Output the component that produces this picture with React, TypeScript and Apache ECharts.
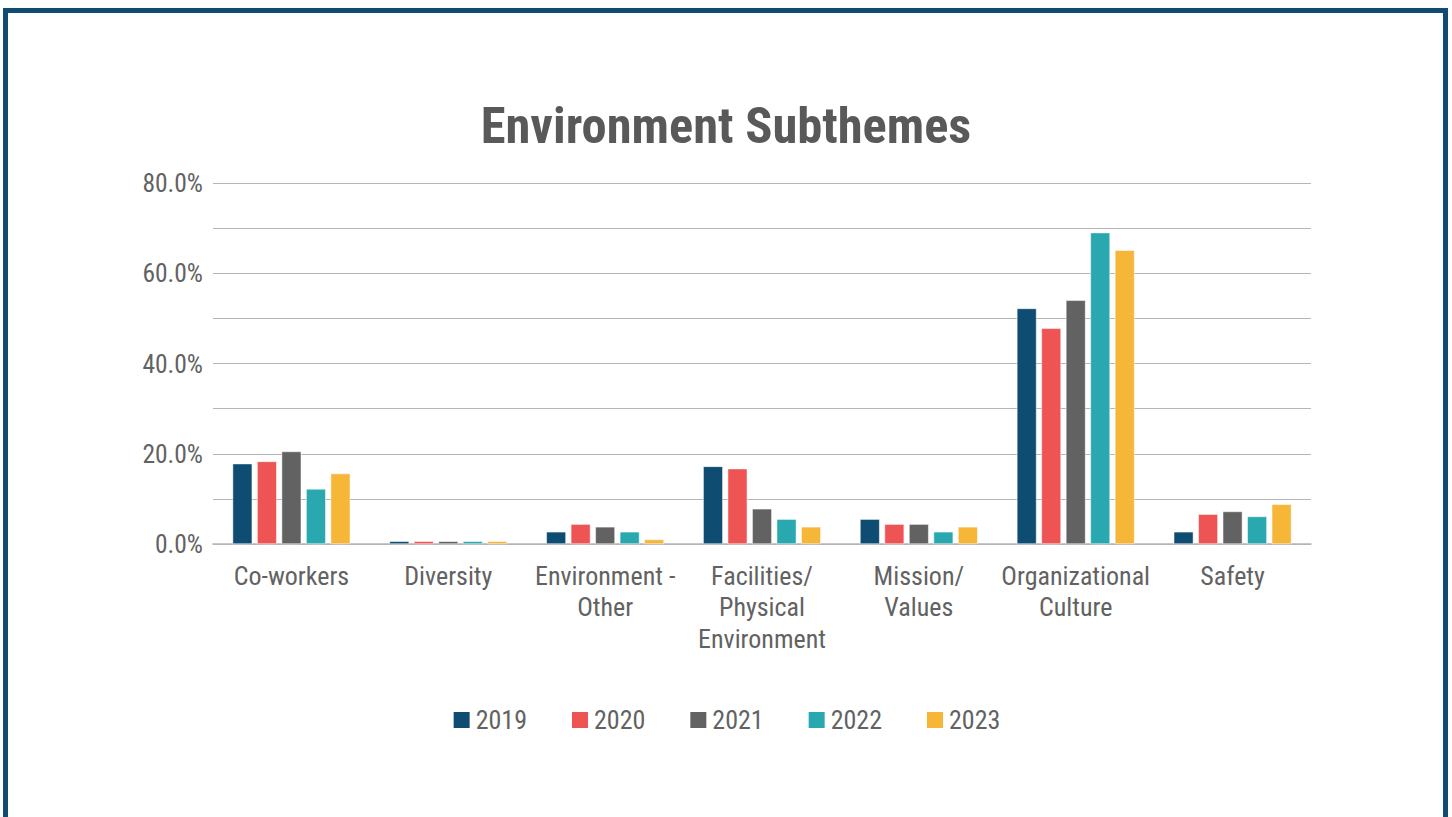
import React, { useEffect, useRef } from "react";
import * as echarts from "echarts";

const categories = [
  "Co-workers",
  "Diversity",
  "Environment -\nOther",
  "Facilities/\nPhysical\nEnvironment",
  "Mission/\nValues",
  "Organizational\nCulture",
  "Safety",
];
const years = ["2019", "2020", "2021", "2022", "2023"];
const v2019 = [17.8, 0.6, 2.7, 17.2, 5.5, 52.2, 2.7];
const v2020 = [18.3, 0.6, 4.4, 16.7, 4.4, 47.8, 6.6];
const v2021 = [20.5, 0.6, 3.8, 7.8, 4.4, 54.0, 7.2];
const v2022 = [12.2, 0.6, 2.7, 5.5, 2.7, 69.0, 6.1];
const v2023 = [15.6, 0.6, 1.0, 3.8, 3.8, 65.1, 8.8];
const colors = ["#0E4C71", "#EF5455", "#626262", "#2AA8B0", "#F6B637"];
const yTickLabels = [0, 20, 40, 60, 80];

const FONT = "'Roboto Condensed', 'Liberation Sans Narrow', 'DejaVu Sans Condensed', Roboto, sans-serif";
const TEXT = "#595959";
const LABEL = "#626262";

export default function App() {
  const ref = useRef<HTMLDivElement>(null);
  useEffect(() => {
    if (!ref.current) return;
    const chart = echarts.init(ref.current, null, { renderer: "svg" });
    const seriesData = [v2019, v2020, v2021, v2022, v2023];
    chart.setOption({
      animation: false,
      backgroundColor: "#ffffff",
      textStyle: { fontFamily: FONT },
      title: {
        text: "Environment Subthemes",
        left: "center",
        top: 95,
        textStyle: { fontSize: 50.5, fontWeight: "bold", color: TEXT, fontFamily: FONT },
      },
      legend: {
        data: years,
        top: 702,
        left: "center",
        icon: "rect",
        itemWidth: 18,
        itemHeight: 18,
        itemGap: 43,
        textStyle: { fontSize: 26, fontWeight: 400, color: LABEL, fontFamily: FONT },
      },
      grid: { left: 213, right: 141, top: 183, bottom: 273 },
      xAxis: {
        type: "category",
        data: categories,
        axisTick: { show: false },
        axisLine: { lineStyle: { color: "#b5b5b5", width: 1.5 } },
        axisLabel: {
          fontSize: 26,
          fontWeight: 400,
          color: LABEL,
          lineHeight: 31.5,
          margin: 16,
          interval: 0,
          fontFamily: FONT,
        },
      },
      yAxis: {
        type: "value",
        min: 0,
        max: 80,
        interval: 10,
        axisLine: { show: false },
        axisTick: { show: false },
        splitLine: { lineStyle: { color: "#b5b5b5", width: 1.2 } },
        axisLabel: {
          fontSize: 25.5,
          fontWeight: 400,
          color: LABEL,
          margin: 10,
          fontFamily: FONT,
          formatter: (v: number) => (yTickLabels.includes(v) ? v.toFixed(1) + "%" : ""),
        },
      },
      series: years.map((y, i) => ({
        name: y,
        type: "bar",
        data: seriesData[i],
        barGap: "25%",
        barCategoryGap: "25%",
        itemStyle: { color: colors[i], borderColor: "#ffffff", borderWidth: 0.5 },
      })),
    });
    return () => chart.dispose();
  }, []);
  return (
    <div style={{ position: "absolute", left: 0, top: 0, width: 1452, height: 817, overflow: "hidden", background: "#fff" }}>
      <div ref={ref} style={{ position: "absolute", left: 0, top: 0, width: 1452, height: 817 }} />
      <div
        style={{
          position: "absolute",
          left: 3,
          top: 8,
          width: 1445,
          height: 840,
          border: "5px solid #0E4C71",
          boxSizing: "border-box",
          pointerEvents: "none",
        }}
      />
    </div>
  );
}
